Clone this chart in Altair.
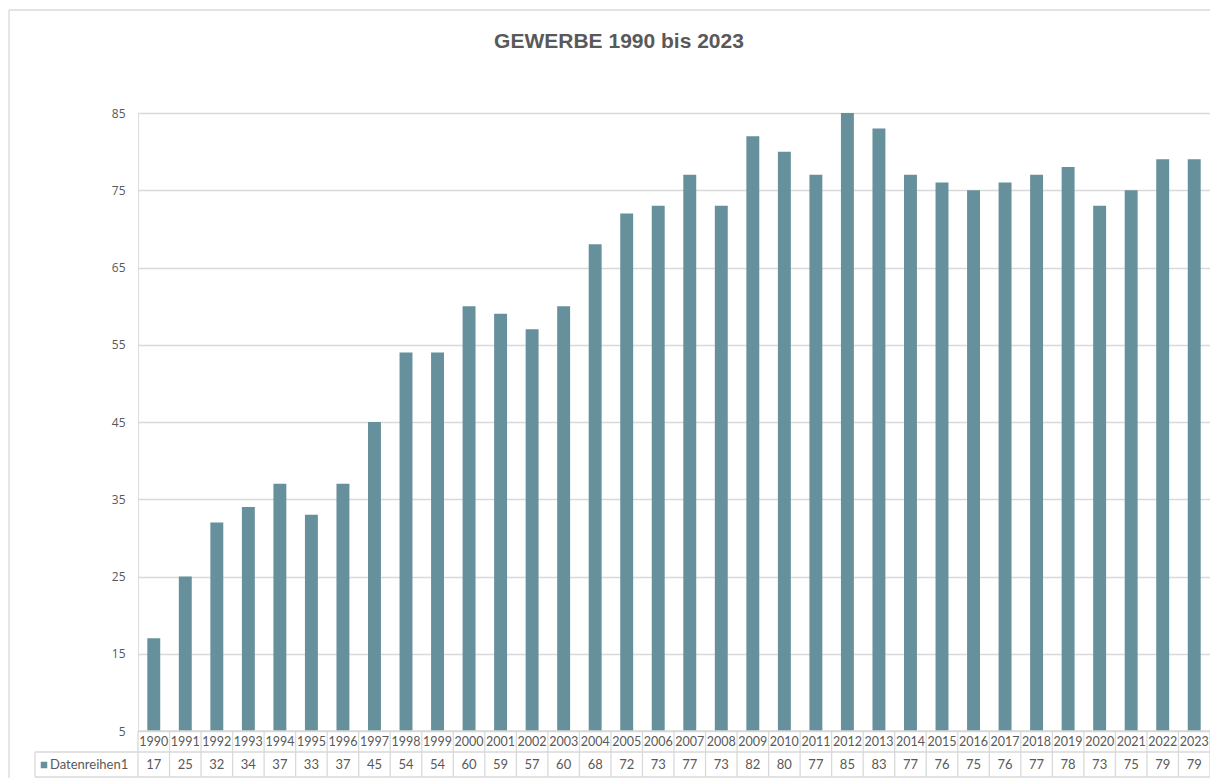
import altair as alt
import pandas as pd

years = [str(y) for y in range(1990, 2024)]
values = [17, 25, 32, 34, 37, 33, 37, 45, 54, 54, 60, 59, 57, 60, 68, 72, 73, 77, 73,
          82, 80, 77, 85, 83, 77, 76, 75, 76, 77, 78, 73, 75, 79, 79]
y_ticks = [5, 15, 25, 35, 45, 55, 65, 75, 85]
series_name = "Datenreihen1"
title_text = "GEWERBE 1990 bis 2023"

df = pd.DataFrame({"year": years, "value": values})

W = 1072
H = 618
BAR = "#66909c"
GRID = "#d9d9d9"
TXT = "#595959"
FONT = "Lato"

xenc = alt.X("year:N", sort=years, axis=None,
             scale=alt.Scale(paddingInner=0, paddingOuter=0))

bars = alt.Chart(df).mark_bar(color=BAR, width={"band": 0.41}).encode(
    x=xenc,
    y=alt.Y("value:Q", scale=alt.Scale(domain=[5, 85], zero=False, nice=False),
            axis=alt.Axis(values=y_ticks, title=None, domain=False, ticks=False,
                          grid=True, gridColor=GRID, gridWidth=1.3,
                          labelColor=TXT, labelFont="Open Sans", labelFontSize=12,
                          labelPadding=13)),
    y2=alt.datum(5),
)

year_text = alt.Chart(df).mark_text(font=FONT, fontSize=12.5, color=TXT,
                                    baseline="middle").encode(
    x=xenc, y=alt.value(629), text="year:N")

val_text = alt.Chart(df).mark_text(font=FONT, fontSize=13, color=TXT,
                                   baseline="middle").encode(
    x=xenc, y=alt.value(652), text="value:Q")

vlines = alt.Chart(df).mark_rule(color=GRID, strokeWidth=1.3).encode(
    x=alt.X("year:N", sort=years, bandPosition=0, axis=None,
            scale=alt.Scale(paddingInner=0, paddingOuter=0)),
    y=alt.value(H), y2=alt.value(H + 46))

base = alt.Chart(pd.DataFrame({"a": [0]}))

right_line = base.mark_rule(color=GRID, strokeWidth=1.3).encode(
    x=alt.value(W), y=alt.value(H), y2=alt.value(H + 46))
legend_left = base.mark_rule(color=GRID, strokeWidth=1.3).encode(
    x=alt.value(-103), y=alt.value(H + 21), y2=alt.value(H + 46))
hline_top = base.mark_rule(color=GRID, strokeWidth=1.3).encode(
    x=alt.value(0), x2=alt.value(W), y=alt.value(H))
hline_mid = base.mark_rule(color=GRID, strokeWidth=1.3).encode(
    x=alt.value(-103), x2=alt.value(W), y=alt.value(H + 21))
hline_bot = base.mark_rule(color=GRID, strokeWidth=1.3).encode(
    x=alt.value(-103), x2=alt.value(W), y=alt.value(H + 46))

legend_sq = base.mark_square(color=BAR, size=42, opacity=1).encode(
    x=alt.value(-94), y=alt.value(652))
legend_txt = base.mark_text(font=FONT, fontSize=13, color=TXT, align="left",
                            baseline="middle").encode(
    x=alt.value(-88), y=alt.value(652), text=alt.value(series_name))

border = base.mark_rule(color=GRID, strokeWidth=1.3).encode(
    x=alt.value(-129), x2=alt.value(1100), y=alt.value(-103))
border_left = base.mark_rule(color=GRID, strokeWidth=1.3).encode(
    x=alt.value(-129), y=alt.value(-103), y2=alt.value(700))

title = base.mark_text(font="Liberation Sans", fontWeight="bold", fontSize=21,
                       color=TXT, align="center", baseline="alphabetic").encode(
    x=alt.value(481), y=alt.value(-65), text=alt.value(title_text))

chart = alt.layer(
    border, border_left, bars, vlines, right_line, legend_left,
    hline_top, hline_mid, hline_bot, year_text, val_text,
    legend_sq, legend_txt, title
).properties(
    width=W, height=H,
    autosize=alt.AutoSizeParams(type="none"),
    padding={"left": 130, "top": 105, "right": 0, "bottom": 50},
).configure_view(stroke=None).configure(background="white")

chart.save("out.html", embed_options={"renderer": "svg", "actions": False})
